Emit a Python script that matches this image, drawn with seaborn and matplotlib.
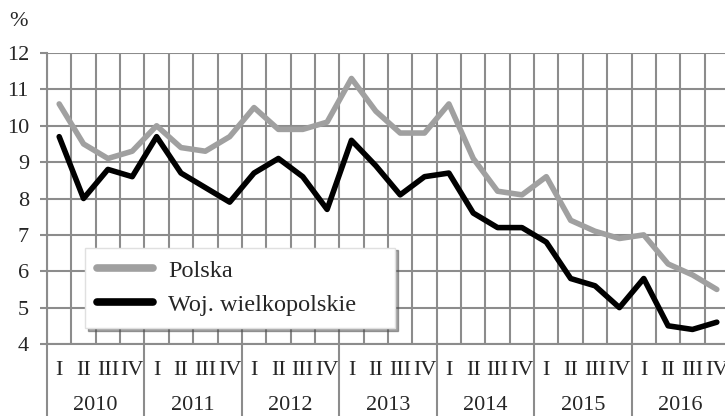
import pandas as pd
import seaborn as sns
import matplotlib
matplotlib.use('Agg')
import matplotlib.pyplot as plt

# dane kwartalne - stopa bezrobocia
years = ['2010', '2011', '2012', '2013', '2014', '2015', '2016']
quarters = ['I', 'II', 'III', 'IV']

polska = [10.6, 9.5, 9.1, 9.3,
          10.0, 9.4, 9.3, 9.7,
          10.5, 9.9, 9.9, 10.1,
          11.3, 10.4, 9.8, 9.8,
          10.6, 9.1, 8.2, 8.1,
          8.6, 7.4, 7.1, 6.9,
          7.0, 6.2, 5.9, 5.5]

wlkp = [9.7, 8.0, 8.8, 8.6,
        9.7, 8.7, 8.3, 7.9,
        8.7, 9.1, 8.6, 7.7,
        9.6, 8.9, 8.1, 8.6,
        8.7, 7.6, 7.2, 7.2,
        6.8, 5.8, 5.6, 5.0,
        5.8, 4.5, 4.4, 4.6]

series_names = ['Polska', 'Woj. wielkopolskie']

n = len(polska)
df = pd.DataFrame({
    'idx': list(range(n)) * 2,
    'val': polska + wlkp,
    'seria': [series_names[0]] * n + [series_names[1]] * n,
})

sns.set_style('white')
plt.rcParams['font.family'] = ['Liberation Serif', 'DejaVu Serif']
plt.rcParams['font.size'] = 16

grid_col = '#8c8c8c'

fig = plt.figure(figsize=(7.25, 4.16), dpi=100)
ax = fig.add_axes([47 / 725, 72 / 416, 682 / 725, 291 / 416])

sns.lineplot(data=df, x='idx', y='val', hue='seria', sort=False,
             palette={series_names[0]: '#a0a0a0', series_names[1]: '#000000'},
             linewidth=4, ax=ax, legend=False)

ax.set_xlim(-0.5, n - 0.5)
ax.set_ylim(4, 12)
ax.set_yticks(range(4, 13))

# kwartaly jako etykiety osi X
ax.set_xticks(range(n))
ax.set_xticklabels(quarters * len(years))
ax.set_xticks([i - 0.5 for i in range(n + 1)], minor=True)
ax.tick_params(axis='x', which='major', length=0, pad=12, labelsize=16)
ax.tick_params(axis='x', which='minor', length=0)
ax.tick_params(axis='y', which='major', length=5, width=1.5, color=grid_col,
               pad=8, labelsize=16, direction='out', left=True)

ax.grid(True, axis='y', which='major', color=grid_col, linewidth=1.5)
ax.grid(True, axis='x', which='minor', color=grid_col, linewidth=1.5)
ax.set_axisbelow(True)

for s in ['top', 'right']:
    ax.spines[s].set_visible(False)
for s in ['left', 'bottom']:
    ax.spines[s].set_color(grid_col)
    ax.spines[s].set_linewidth(1.5)

# separatory lat pod osia
for k in range(len(years) + 1):
    ax.axvline(4 * k - 0.5, ymin=-0.26, ymax=0, color=grid_col,
               linewidth=1.5, clip_on=False)

for k, y in enumerate(years):
    ax.text(4 * k + 1.5, -0.213, y, transform=ax.get_xaxis_transform(),
            ha='center', va='center', fontsize=16)

ax.set_xlabel('')
ax.set_ylabel('')
fig.text(19 / 725, 1 - 21 / 416, '%', ha='center', va='center', fontsize=16)

lines = ax.get_lines()[:2]
leg = ax.legend(lines, series_names, loc='lower left', mode='expand',
                bbox_to_anchor=(0.056, 0.055, 0.4545, 0.27), borderaxespad=0,
                frameon=True, fancybox=False, shadow=True,
                handlelength=2.3, handletextpad=0.6, labelspacing=0.5,
                borderpad=0.5, fontsize=17.5)
leg.get_frame().set_edgecolor('#e0e0e0')
leg.get_frame().set_facecolor('white')
for h in leg.get_lines():
    h.set_linewidth(5.5)

fig.savefig('out.png', dpi=100)
